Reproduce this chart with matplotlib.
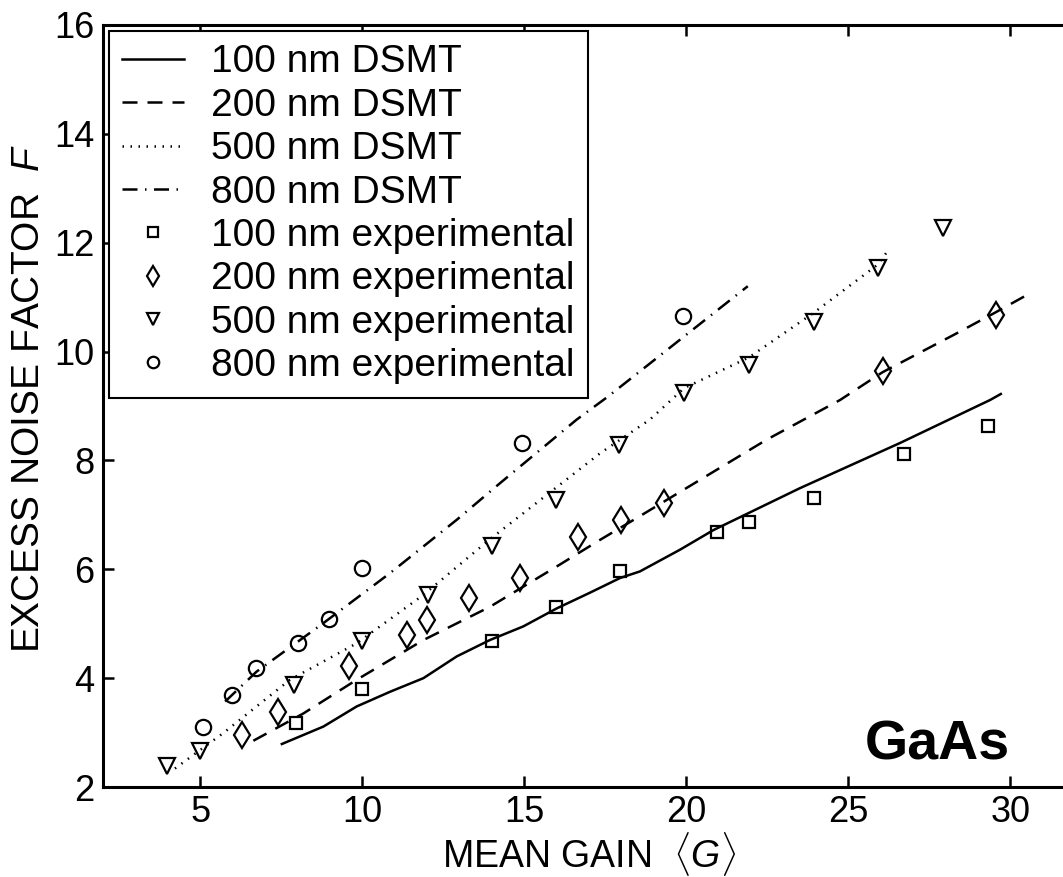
import numpy as np
import matplotlib
matplotlib.use("Agg")
from matplotlib import pyplot as plt

plt.rcParams['font.family'] = ['Liberation Sans', 'DejaVu Sans']
plt.rcParams['mathtext.fontset'] = 'custom'
plt.rcParams['mathtext.rm'] = 'Liberation Sans'
plt.rcParams['mathtext.it'] = 'Liberation Sans:italic'

# DSMT model curves (mean gain, excess noise factor)
g100_dsmt = [7.52, 8.80, 9.83, 10.86, 11.89, 12.92, 13.94, 14.97, 16.0, 17.03, 17.96, 18.57, 19.81, 20.84, 23.51, 26.6, 29.38, 29.71]
f100_dsmt = [2.79, 3.11, 3.48, 3.75, 4.00, 4.40, 4.70, 4.95, 5.28, 5.57, 5.84, 5.96, 6.36, 6.72, 7.49, 8.32, 9.11, 9.22]

g200_dsmt = [6.64, 8.18, 9.83, 11.89, 13.94, 16.0, 17.34, 18.47, 22.48, 24.75, 26.06, 28.27, 29.55, 30.52]
f200_dsmt = [2.85, 3.35, 3.97, 4.70, 5.31, 6.05, 6.54, 6.94, 8.38, 9.11, 9.62, 10.31, 10.72, 11.04]

g500_dsmt = [4.22, 5.71, 7.77, 9.83, 11.89, 13.94, 17.34, 18.88, 19.94, 21.93, 23.93, 25.92, 26.28]
f500_dsmt = [2.34, 2.99, 3.97, 4.64, 5.53, 6.55, 8.13, 8.75, 9.33, 9.89, 10.71, 11.60, 11.90]

g800_dsmt = [5.77, 6.74, 8.80, 10.86, 12.92, 14.25, 16.62, 17.58, 21.9]
f800_dsmt = [3.57, 4.12, 5.01, 5.93, 6.91, 7.58, 8.75, 9.17, 11.2]

# experimental points
g100_exp = [7.95, 10.0, 14.0, 15.97, 17.96, 20.94, 21.94, 23.95, 26.73, 29.32]
f100_exp = [3.17, 3.80, 4.68, 5.30, 5.96, 6.68, 6.86, 7.31, 8.12, 8.64]

g200_exp = [6.28, 7.41, 9.60, 11.39, 11.99, 13.30, 14.87, 16.67, 18.0, 19.3, 26.06, 29.55]
f200_exp = [2.96, 3.37, 4.22, 4.79, 5.07, 5.47, 5.84, 6.59, 6.91, 7.21, 9.65, 10.68]

g500_exp = [3.98, 4.99, 7.90, 9.98, 12.02, 14.0, 15.97, 17.94, 19.94, 21.93, 23.93, 25.92, 27.94]
f500_exp = [2.39, 2.66, 3.88, 4.69, 5.53, 6.42, 7.28, 8.29, 9.24, 9.76, 10.55, 11.53, 12.27]

g800_exp = [5.10, 5.97, 6.71, 8.03, 8.99, 9.98, 14.94, 19.9]
f800_exp = [3.11, 3.69, 4.18, 4.65, 5.09, 6.02, 8.32, 10.65]

xticks = [5, 10, 15, 20, 25, 30]
yticks = [2, 4, 6, 8, 10, 12, 14, 16]

fig = plt.figure(figsize=(10.63, 8.77), dpi=100)
ax = fig.add_axes([0.0969, 0.1026, 0.9144, 0.869])

lw = 1.8
ax.plot(g100_dsmt, f100_dsmt, '-', color='k', lw=lw, label='100 nm DSMT')
ax.plot(g200_dsmt, f200_dsmt, '--', color='k', lw=lw, dashes=(6, 4), label='200 nm DSMT')
ax.plot(g500_dsmt, f500_dsmt, ':', color='k', lw=lw, dashes=(0.6, 2.6), label='500 nm DSMT')
ax.plot(g800_dsmt, f800_dsmt, '-.', color='k', lw=lw, dashes=(6, 3, 0.6, 3), label='800 nm DSMT')

mk = dict(linestyle='none', mfc='none', mec='k', mew=1.6)
ax.plot(g100_exp, f100_exp, marker='s', ms=9, label='100 nm experimental', **mk)
ax.plot(g200_exp, f200_exp, marker='d', ms=13, label='200 nm experimental', **mk)
ax.plot(g500_exp, f500_exp, marker='v', ms=12, label='500 nm experimental', **mk)
ax.plot(g800_exp, f800_exp, marker='o', ms=11, label='800 nm experimental', **mk)

ax.set_xlim(2, 32)
ax.set_ylim(2, 16)
ax.set_xticks(xticks)
ax.set_yticks(yticks)
ax.tick_params(direction='in', length=8, width=1.8, labelsize=26, pad=6,
               top=True, right=True)
for s in ax.spines.values():
    s.set_linewidth(2.2)

ax.set_xlabel(r'MEAN GAIN  $\langle G\rangle$', fontsize=27, labelpad=0)
ax.set_ylabel(r'EXCESS NOISE FACTOR  $F$', fontsize=28, labelpad=3)
ax.yaxis.set_label_coords(-0.058, 0.51)

ax.text(25.5, 2.5, 'GaAs', fontsize=40, fontweight='bold', ha='left', va='baseline')

leg = ax.legend(loc='upper left', fontsize=28, frameon=True, fancybox=False,
                edgecolor='k', framealpha=1, borderaxespad=0.15,
                handlelength=1.57, handletextpad=0.7, labelspacing=0.19,
                borderpad=0.35, markerscale=0.75)
leg.get_frame().set_linewidth(1.5)

fig.savefig('out.png', dpi=100)
